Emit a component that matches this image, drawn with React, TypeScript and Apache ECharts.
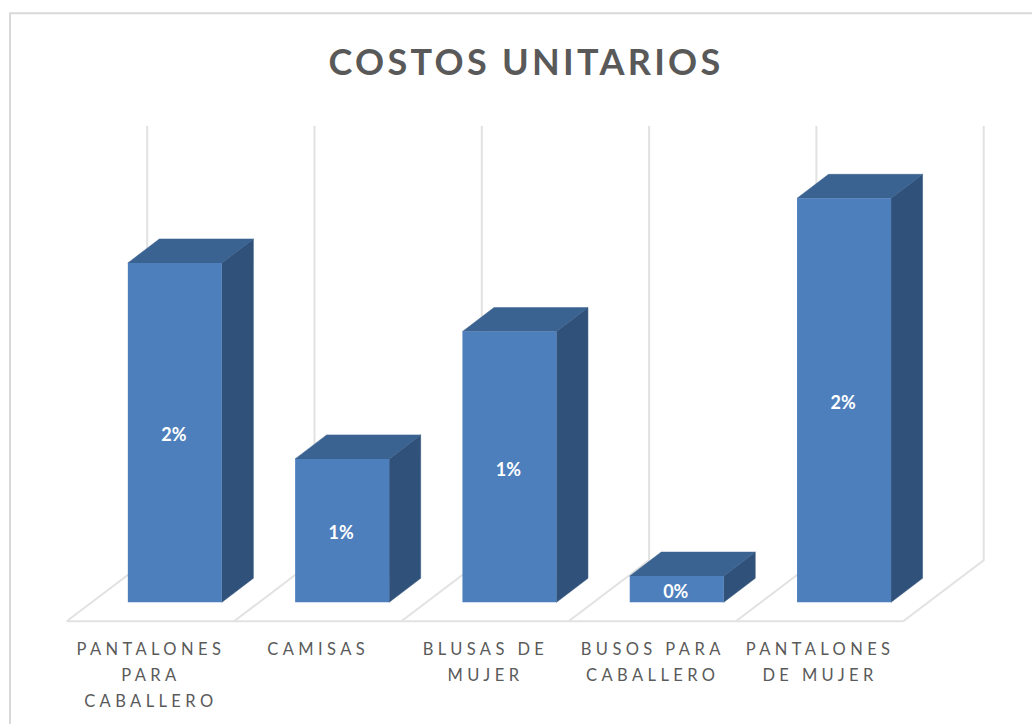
import React, { useEffect, useRef } from "react";
import * as echarts from "echarts";

const titleText = "COSTOS UNITARIOS";
const categories = [
  "PANTALONES\nPARA\nCABALLERO",
  "CAMISAS",
  "BLUSAS DE\nMUJER",
  "BUSOS PARA\nCABALLERO",
  "PANTALONES\nDE MUJER",
];
const costs = [0.0168, 0.0071, 0.0134, 0.0013, 0.02];
const axisMax = 0.0215;

const TITLE_COLOR = "#595959";
const AXIS_COLOR = "#5a5a5a";
const WALL_COLOR = "#e2e2e2";
const FRONT = "#4e7fbd";
const TOP = "#3b6391";
const SIDE = "#30527a";

const DEPTH_X = 31.5;
const DEPTH_Y = 24;
const BACK_X = 56;
const BACK_Y = 42;
const FRONT_X = 24.5;
const FRONT_Y = 19;

const css = `
svg text[fill="${TITLE_COLOR}"]{letter-spacing:3.3px}
svg text[fill="${AXIS_COLOR}"]{letter-spacing:4.4px}
`;

export default function App() {
  const ref = useRef<HTMLDivElement>(null);
  useEffect(() => {
    const chart = echarts.init(ref.current!, undefined, { renderer: "svg" });

    const renderWall = (_p: any, api: any) => {
      const i = api.value(0);
      const [cx, y0] = api.coord([i, 0]);
      const [, yTop] = api.coord([i, axisMax]);
      const band = api.size([1, 0])[0];
      const line = (x1: number, y1: number, x2: number, y2: number) => ({
        type: "line",
        shape: { x1, y1, x2, y2 },
        style: { stroke: WALL_COLOR, lineWidth: 2, fill: "none" },
      });
      const wall = (x: number) => ({
        type: "polyline",
        shape: {
          points: [
            [x + BACK_X, yTop - BACK_Y],
            [x + BACK_X, y0 - BACK_Y],
            [x - FRONT_X, y0 + FRONT_Y],
          ],
        },
        style: { stroke: WALL_COLOR, lineWidth: 2, fill: "none" },
      });
      const xl = cx - band / 2;
      const xr = cx + band / 2;
      const children: any[] = [wall(xl), line(xl - FRONT_X, y0 + FRONT_Y, xr - FRONT_X, y0 + FRONT_Y)];
      if (i === categories.length - 1) children.push(wall(xr));
      return { type: "group", children };
    };

    const renderBar = (_p: any, api: any) => {
      const i = api.value(0);
      const v = api.value(1);
      const [cx, y1] = api.coord([i, v]);
      const [, y0] = api.coord([i, 0]);
      const half = api.size([1, 0])[0] * 0.281;
      const l = cx - half;
      const r = cx + half;
      const dx = DEPTH_X;
      const dy = DEPTH_Y;
      return {
        type: "group",
        children: [
          {
            type: "polygon",
            shape: { points: [[r, y1], [r + dx, y1 - dy], [r + dx, y0 - dy], [r, y0]] },
            style: { fill: SIDE, stroke: SIDE, lineWidth: 0.5 },
          },
          {
            type: "polygon",
            shape: { points: [[l, y1], [l + dx, y1 - dy], [r + dx, y1 - dy], [r, y1]] },
            style: { fill: TOP, stroke: TOP, lineWidth: 0.5 },
          },
          {
            type: "rect",
            shape: { x: l, y: y1, width: r - l, height: y0 - y1 },
            style: { fill: FRONT },
          },
          {
            type: "text",
            x: cx - 1,
            y: (y0 + y1) / 2 + 1.8,
            style: {
              text: `${Math.round(v * 100)}%`,
              fill: "#ffffff",
              font: "bold 18px Lato",
              align: "center",
              verticalAlign: "middle",
            },
          },
        ],
      };
    };

    chart.setOption({
      animation: false,
      backgroundColor: "#ffffff",
      title: {
        text: titleText,
        left: 521,
        top: 38,
        textAlign: "center",
        textStyle: { color: TITLE_COLOR, fontFamily: "Lato", fontWeight: "bold", fontSize: 36 },
      },
      graphic: [
        {
          type: "polyline",
          silent: true,
          shape: { points: [[10, 724], [10, 13.3], [1032, 13.3]] },
          style: { stroke: "#d9d9d9", lineWidth: 2, fill: "none" },
        },
      ],
      grid: { left: 91.2, width: 836.5, top: 168, height: 434.3 },
      xAxis: {
        type: "category",
        data: categories,
        axisLine: { show: false },
        axisTick: { show: false },
        splitLine: { show: false },
        axisLabel: {
          interval: 0,
          color: AXIS_COLOR,
          fontFamily: "Lato",
          fontSize: 16.5,
          lineHeight: 25.7,
          margin: 34,
          padding: [0, 48, 0, 0],
          hideOverlap: false,
        },
      },
      yAxis: { type: "value", min: 0, max: axisMax, show: false, splitLine: { show: false } },
      series: [
        {
          type: "custom",
          name: "Muros",
          clip: false,
          z: 1,
          silent: true,
          renderItem: renderWall,
          data: categories.map((_c, i) => [i, 0]),
          encode: { x: 0, y: 1 },
        },
        {
          type: "custom",
          name: "Costos unitarios",
          clip: false,
          z: 2,
          renderItem: renderBar,
          data: costs.map((v, i) => [i, v]),
          encode: { x: 0, y: 1 },
        },
      ],
    });
    return () => chart.dispose();
  }, []);
  return (
    <>
      <style>{css}</style>
      <div ref={ref} style={{ position: "fixed", left: 0, top: 0, width: 1032, height: 724 }} />
    </>
  );
}
